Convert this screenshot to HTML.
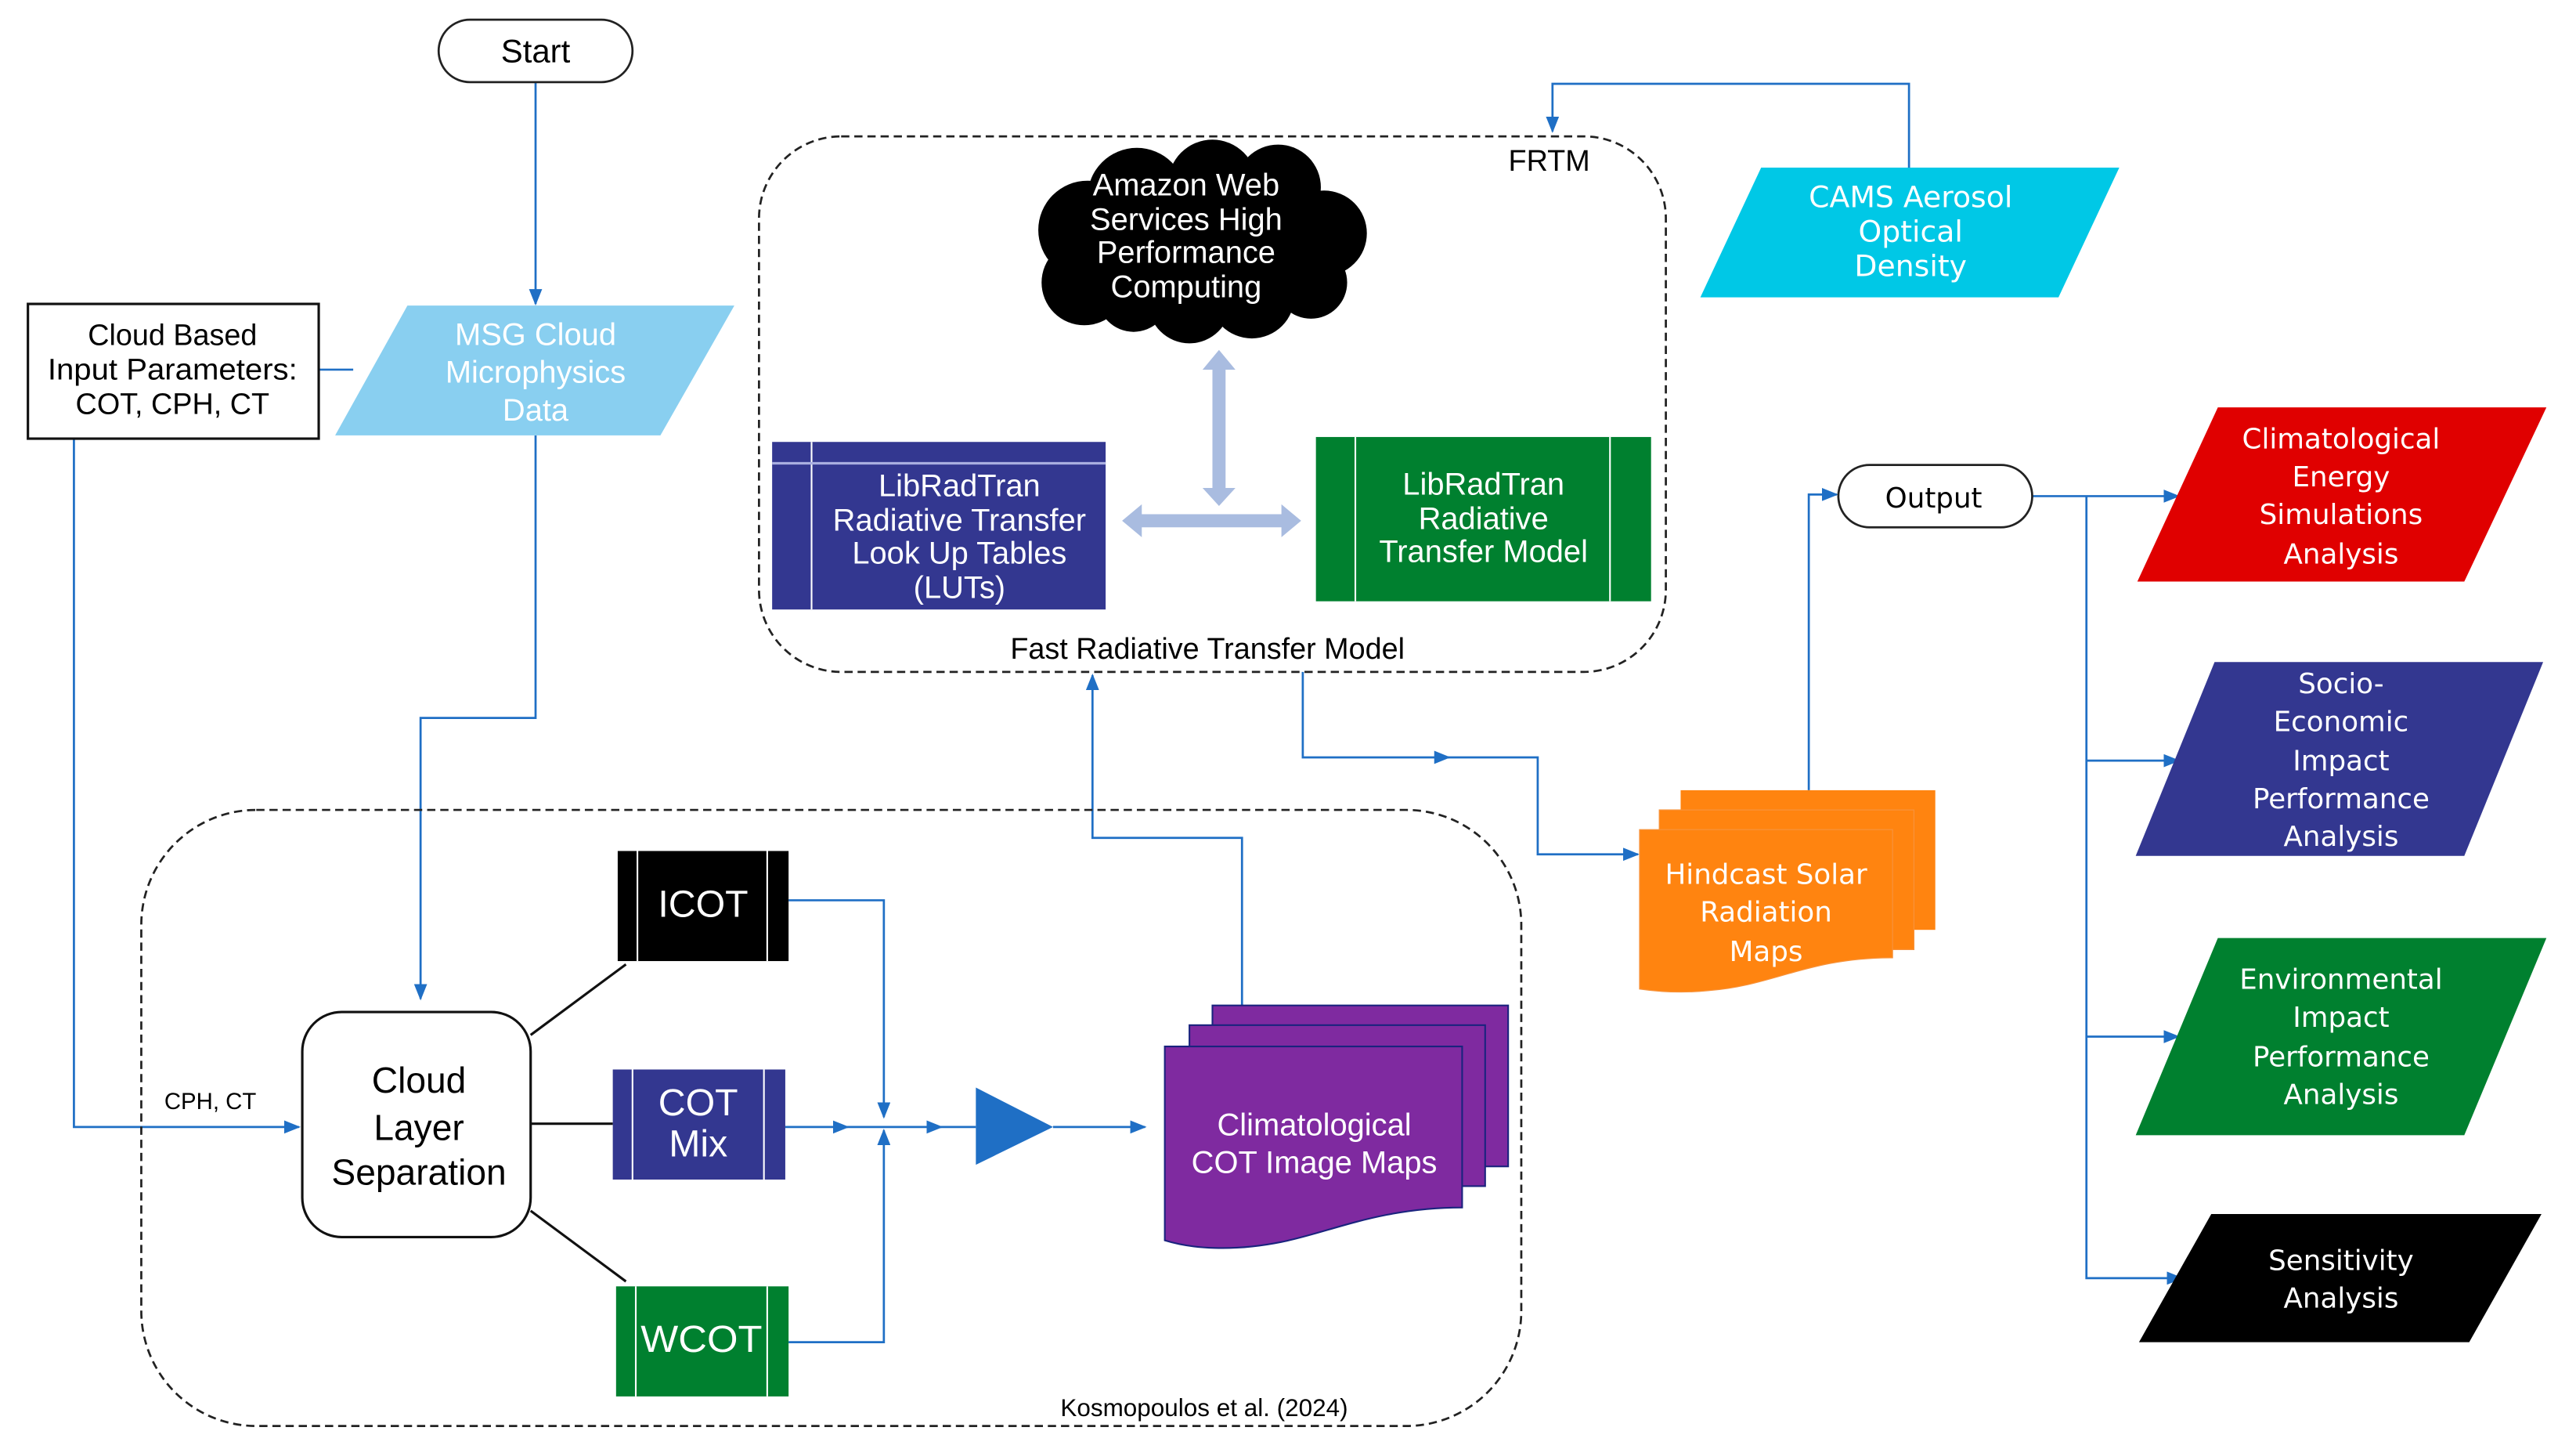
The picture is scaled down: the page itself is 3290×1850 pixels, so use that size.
<!DOCTYPE html>
<html><head><meta charset="utf-8"><style>
html,body{margin:0;padding:0;background:#fff;}
svg{display:block;}
.n{font-family:"Liberation Sans Narrow","Liberation Sans",sans-serif;}
.w{font-family:"DejaVu Sans","Liberation Sans",sans-serif;}
</style></head><body>
<svg width="3290" height="1850" viewBox="0 0 1568 882" preserveAspectRatio="none" xmlns="http://www.w3.org/2000/svg">
<defs>
<marker id="a" markerWidth="10" markerHeight="8" refX="9" refY="4" orient="auto" markerUnits="userSpaceOnUse"><path d="M0,0 L10,4 L0,8 Z" fill="#1F6FC5"/></marker>
</defs>
<rect width="1568" height="882" fill="#fff"/>
<g fill="none" stroke="#1F6FC5" stroke-width="1.3">
<path d="M326,50 V185" marker-end="url(#a)"/>
<path d="M194,225 H215"/>
<path d="M326,265 V437 H256 V608" marker-end="url(#a)"/>
<path d="M45,267 V686 H182" marker-end="url(#a)"/>
<path d="M1162,102 V51 H945 V80" marker-end="url(#a)"/>
<path d="M793,409 V461 H882" marker-end="url(#a)"/>
<path d="M880,461 H936 V520 H997" marker-end="url(#a)"/>
<path d="M1101,481 V301 H1118" marker-end="url(#a)"/>
<path d="M1237,302 H1326" marker-end="url(#a)"/>
<path d="M1270,302 V778 H1328" marker-end="url(#a)"/>
<path d="M1270,463 H1326" marker-end="url(#a)"/>
<path d="M1270,631 H1326" marker-end="url(#a)"/>
<path d="M480,548 H538 V680" marker-end="url(#a)"/>
<path d="M480,817 H538 V688" marker-end="url(#a)"/>
<path d="M478,686 H516" marker-end="url(#a)"/>
<path d="M514,686 H573" marker-end="url(#a)"/>
<path d="M571,686 H594"/>
<path d="M641,686 H697" marker-end="url(#a)"/>
<path d="M756,612 V510 H665 V411" marker-end="url(#a)"/>
</g>
<rect x="462" y="83" width="552" height="326" rx="50" fill="none" stroke="#222" stroke-width="1.3" stroke-dasharray="5,3"/>
<rect x="86" y="493" width="840" height="375" rx="70" fill="none" stroke="#222" stroke-width="1.3" stroke-dasharray="5,3"/>
<rect x="267" y="12" width="118" height="38" rx="19" fill="#fff" stroke="#222" stroke-width="1.3"/>
<text x="326" y="38" class="n" font-size="20" text-anchor="middle">Start</text>
<rect x="17" y="185" width="177" height="82" fill="#fff" stroke="#111" stroke-width="1.5"/>
<g class="n" font-size="18" text-anchor="middle"><text x="105" y="210">Cloud Based</text><text x="105" y="231" textLength="152" lengthAdjust="spacingAndGlyphs">Input  Parameters:</text><text x="105" y="252">COT, CPH, CT</text></g>
<polygon points="248,186 447,186 402,265 204,265" fill="#89CFF0"/>
<g class="n" font-size="19" fill="#fff" text-anchor="middle"><text x="326" y="210">MSG Cloud</text><text x="326" y="233">Microphysics</text><text x="326" y="256">Data</text></g>
<g fill="#000">
<circle cx="662" cy="140" r="30"/><circle cx="660" cy="172" r="26"/><circle cx="692" cy="120" r="30"/>
<circle cx="738" cy="112" r="27"/><circle cx="778" cy="114" r="26"/><circle cx="806" cy="142" r="26"/>
<circle cx="798" cy="172" r="22"/><circle cx="762" cy="180" r="26"/><circle cx="724" cy="184" r="25"/>
<circle cx="690" cy="180" r="22"/><ellipse cx="730" cy="150" rx="70" ry="45"/>
</g>
<g class="n" font-size="19" fill="#fff" text-anchor="middle"><text x="722" y="119">Amazon Web</text><text x="722" y="140">Services High</text><text x="722" y="160">Performance</text><text x="722" y="181">Computing</text></g>
<text x="943" y="104" class="n" font-size="18" text-anchor="middle">FRTM</text>
<g fill="#A9BCE0">
<polygon points="742,213 752,225 746,225 746,297 752,297 742,308 732,297 738,297 738,225 732,225"/>
<polygon points="683,317 695,307 695,313 780,313 780,307 792,317 780,327 780,321 695,321 695,327"/>
</g>
<rect x="470" y="269" width="203" height="102" fill="#333790"/>
<line x1="494" y1="269" x2="494" y2="371" stroke="#fff" stroke-width="1"/>
<line x1="470" y1="282" x2="673" y2="282" stroke="#A9AEE0" stroke-width="1.5"/>
<g class="n" font-size="19" fill="#fff" text-anchor="middle"><text x="584" y="302">LibRadTran</text><text x="584" y="323">Radiative Transfer</text><text x="584" y="343">Look Up Tables</text><text x="584" y="364">(LUTs)</text></g>
<rect x="801" y="266" width="204" height="100" fill="#00802F"/>
<line x1="825" y1="266" x2="825" y2="366" stroke="#fff" stroke-width="1"/>
<line x1="980" y1="266" x2="980" y2="366" stroke="#fff" stroke-width="1"/>
<g class="n" font-size="19" fill="#fff" text-anchor="middle"><text x="903" y="301">LibRadTran</text><text x="903" y="322">Radiative</text><text x="903" y="342">Transfer  Model</text></g>
<text x="735" y="401" class="n" font-size="18" text-anchor="middle">Fast Radiative Transfer  Model</text>
<polygon points="1072,102 1290,102 1253,181 1035,181" fill="#00C8E6"/>
<g class="w" font-size="18" fill="#fff" text-anchor="middle"><text x="1163" y="126">CAMS Aerosol</text><text x="1163" y="147">Optical</text><text x="1163" y="168">Density</text></g>
<g fill="#FF8410">
<rect x="1023" y="481" width="155" height="85"/>
<rect x="1010" y="493" width="155" height="85" stroke="#F7923A" stroke-width="0.6"/>
<path d="M998,505 H1152 V583 C1100,583 1080,600 1040,603 C1020,605 1005,603 998,602 Z" stroke="#F7923A" stroke-width="0.6"/>
</g>
<g class="w" font-size="17" fill="#fff" text-anchor="middle"><text x="1075" y="538">Hindcast Solar</text><text x="1075" y="561">Radiation</text><text x="1075" y="585">Maps</text></g>
<rect x="1119" y="283" width="118" height="38" rx="19" fill="#fff" stroke="#222" stroke-width="1.3"/>
<text x="1177" y="309" class="w" font-size="17" text-anchor="middle">Output</text>
<polygon points="1350,248 1550,248 1500,354 1301,354" fill="#E00000"/>
<g class="w" font-size="17" fill="#fff" text-anchor="middle"><text x="1425" y="273">Climatological</text><text x="1425" y="296">Energy</text><text x="1425" y="319">Simulations</text><text x="1425" y="343">Analysis</text></g>
<polygon points="1348,403 1548,403 1500,521 1300,521" fill="#333790"/>
<g class="w" font-size="17" fill="#fff" text-anchor="middle"><text x="1425" y="422">Socio-</text><text x="1425" y="445">Economic</text><text x="1425" y="469">Impact</text><text x="1425" y="492">Performance</text><text x="1425" y="515">Analysis</text></g>
<polygon points="1350,571 1550,571 1500,691 1300,691" fill="#00802F"/>
<g class="w" font-size="17" fill="#fff" text-anchor="middle"><text x="1425" y="602">Environmental</text><text x="1425" y="625">Impact</text><text x="1425" y="649">Performance</text><text x="1425" y="672">Analysis</text></g>
<polygon points="1346,739 1547,739 1503,817 1302,817" fill="#000"/>
<g class="w" font-size="17" fill="#fff" text-anchor="middle"><text x="1425" y="773">Sensitivity</text><text x="1425" y="796">Analysis</text></g>
<text x="128" y="675" class="n" font-size="14" text-anchor="middle">CPH, CT</text>
<rect x="184" y="616" width="139" height="137" rx="24" fill="#fff" stroke="#111" stroke-width="1.5"/>
<g class="n" font-size="22" text-anchor="middle"><text x="255" y="665">Cloud</text><text x="255" y="694">Layer</text><text x="255" y="721">Separation</text></g>
<g stroke="#111" stroke-width="1.5"><line x1="323" y1="630" x2="381" y2="587"/><line x1="323" y1="684" x2="373" y2="684"/><line x1="323" y1="737" x2="381" y2="780"/></g>
<rect x="376" y="518" width="104" height="67" fill="#000"/>
<g stroke="#fff" stroke-width="1"><line x1="388" y1="518" x2="388" y2="585"/><line x1="467" y1="518" x2="467" y2="585"/></g>
<text x="428" y="558" class="n" font-size="23" fill="#fff" text-anchor="middle">ICOT</text>
<rect x="373" y="651" width="105" height="67" fill="#333790"/>
<g stroke="#fff" stroke-width="1"><line x1="385" y1="651" x2="385" y2="718"/><line x1="465" y1="651" x2="465" y2="718"/></g>
<g class="n" font-size="23" fill="#fff" text-anchor="middle"><text x="425" y="679">COT</text><text x="425" y="704">Mix</text></g>
<rect x="375" y="783" width="105" height="67" fill="#00802F"/>
<g stroke="#fff" stroke-width="1"><line x1="387" y1="783" x2="387" y2="850"/><line x1="467" y1="783" x2="467" y2="850"/></g>
<text x="427" y="823" class="n" font-size="23" fill="#fff" text-anchor="middle" textLength="74" lengthAdjust="spacingAndGlyphs">WCOT</text>
<polygon points="594,662 641,686 594,709" fill="#1F6FC5"/>
<g fill="#7F2AA0" stroke="#1A237E" stroke-width="1">
<rect x="738" y="612" width="180" height="98"/>
<rect x="724" y="624" width="180" height="98"/>
<path d="M709,637 H890 V735 C840,735 810,750 780,756 C750,762 725,760 709,755 Z"/>
</g>
<g class="n" font-size="19" fill="#fff" text-anchor="middle"><text x="800" y="691">Climatological</text><text x="800" y="714">COT Image Maps</text></g>
<text x="733" y="862" class="n" font-size="15" text-anchor="middle">Kosmopoulos et al. (2024)</text>
</svg>
</body></html>
